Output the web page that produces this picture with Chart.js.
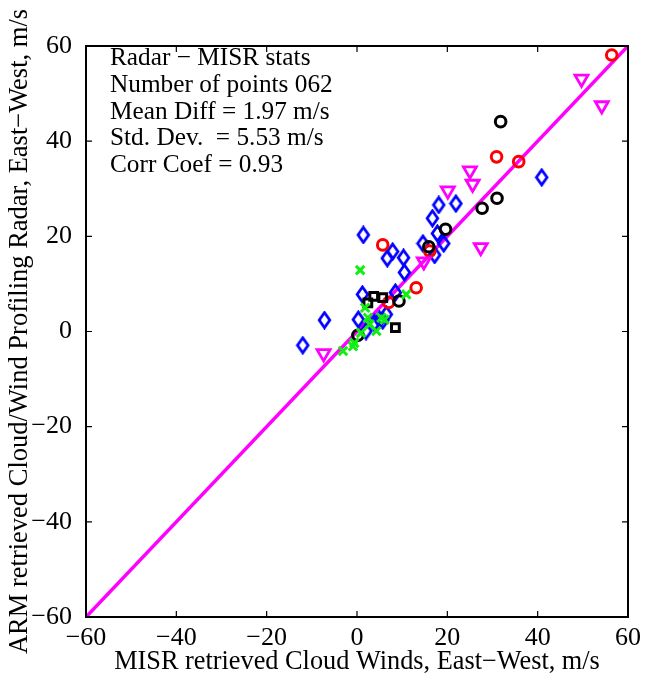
<!DOCTYPE html>
<html>
<head>
<meta charset="utf-8">
<script src="https://cdn.jsdelivr.net/npm/chart.js@4/dist/chart.umd.min.js"></script>
<style>
  body { margin: 0; background: #fff; }
  #wrap { width: 645px; height: 675px; }
</style>
</head>
<body>
<div id="wrap"><canvas id="c" width="645" height="675"></canvas></div>
<script>
// values (MISR x, Radar y), m/s
const diamondX = [40.9, 18.1, 21.9, 16.7, 17.8, 14.6, 19.2, 17.2, 10.3, 10.5, 1.4, 7.9, 6.7, 1.2, 8.5, -7.2, -12.0, 0.3, 2.0, 3.9, 5.0, 6.5, 5.7];
const diamondY = [32.4, 26.6, 26.9, 23.8, 20.6, 18.5, 18.5, 16.1, 15.5, 12.4, 20.3, 16.8, 15.4, 7.8, 8.2, 2.4, -2.9, 2.5, 0.1, 1.8, 2.5, 3.6, 2.3];
const redX = [56.4, 30.9, 35.8, 16.1, 5.7, 13.1, 7.0];
const redY = [58.1, 36.7, 35.7, 16.9, 18.2, 9.2, 6.1];
const blackX = [31.8, 31.0, 27.7, 19.6, 15.9, 9.3, 0.2];
const blackY = [44.1, 28.0, 25.9, 21.5, 17.8, 6.4, -0.8];
const squareX = [3.7, 5.7, 2.4, 8.5];
const squareY = [7.4, 7.1, 6.0, 0.8];
const triX = [49.7, 54.2, 25.0, 25.6, 20.1, 27.4, 14.8, -7.4];
const triY = [53.1, 47.5, 33.8, 31.0, 29.6, 17.7, 14.7, -4.6];
const greenX = [0.7, 10.9, 1.8, 2.4, 2.8, 4.3, 5.4, 0.9, -0.6, -0.9, -3.1, 6.1];
const greenY = [12.9, 7.8, 5.0, 2.9, 1.5, 0.1, 2.9, -0.3, -2.4, -3.1, -4.1, 2.5];
const lineX = [-60, 60];
const lineY = [-60, 60];
const tickVals = [-60, -40, -20, 0, 20, 40, 60];
const statsLines = [
  "Radar \u2212 MISR stats",
  "Number of points 062",
  "Mean Diff = 1.97 m/s",
  "Std. Dev.  = 5.53 m/s",
  "Corr Coef = 0.93"
];

const pts = (xs, ys) => xs.map((x, i) => ({ x: x, y: ys[i] }));

// narrow matlab-like diamond
function makeDiamond(color) {
  const cv = document.createElement("canvas");
  cv.width = 15; cv.height = 19;
  const g = cv.getContext("2d");
  g.strokeStyle = color;
  g.lineWidth = 2.8;
  g.lineJoin = "miter";
  g.beginPath();
  g.moveTo(7.5, 2); g.lineTo(12.8, 9.5); g.lineTo(7.5, 17); g.lineTo(2.2, 9.5);
  g.closePath();
  g.stroke();
  return cv;
}

const serif = "'Liberation Serif', 'DejaVu Serif', serif";

const frame = {
  id: "frame",
  afterDraw(chart) {
    const { ctx, chartArea: a, scales } = chart;
    ctx.save();
    ctx.strokeStyle = "#000";
    ctx.lineWidth = 2;
    ctx.strokeRect(a.left, a.top, a.right - a.left, a.bottom - a.top);
    ctx.lineWidth = 1.2;
    ctx.beginPath();
    tickVals.forEach(v => {
      const px = scales.x.getPixelForValue(v);
      const py = scales.y.getPixelForValue(v);
      ctx.moveTo(px, a.bottom); ctx.lineTo(px, a.bottom - 6);
      ctx.moveTo(px, a.top); ctx.lineTo(px, a.top + 6);
      ctx.moveTo(a.left, py); ctx.lineTo(a.left + 6, py);
      ctx.moveTo(a.right, py); ctx.lineTo(a.right - 6, py);
    });
    ctx.stroke();
    ctx.fillStyle = "#000";
    ctx.font = "25.3px " + serif;
    ctx.textBaseline = "alphabetic";
    ctx.textAlign = "left";
    statsLines.forEach((s, i) => ctx.fillText(s, 110, 65 + i * 26.8));
    ctx.restore();
  }
};

new Chart(document.getElementById("c"), {
  type: "scatter",
  data: {
    datasets: [
      { data: pts(lineX, lineY), showLine: true, borderColor: "#ff00ff", borderWidth: 3.5, pointRadius: 0, order: 10 },
      { data: pts(diamondX, diamondY), pointStyle: makeDiamond("#0000ff"), order: 6 },
      { data: pts(redX, redY), pointStyle: "circle", pointRadius: 5.3, borderColor: "#ff0000", backgroundColor: "transparent", borderWidth: 3, pointBorderWidth: 3, order: 5 },
      { data: pts(blackX, blackY), pointStyle: "circle", pointRadius: 5.3, borderColor: "#000", backgroundColor: "transparent", borderWidth: 3, pointBorderWidth: 3, order: 4 },
      { data: pts(squareX, squareY), pointStyle: "rect", pointRadius: 5.5, borderColor: "#000", backgroundColor: "transparent", borderWidth: 3, pointBorderWidth: 3, order: 3 },
      { data: pts(greenX, greenY), pointStyle: "crossRot", pointRadius: 6, borderColor: "#11ee11", borderWidth: 3, pointBorderWidth: 3, order: 2 },
      { data: pts(triX, triY), pointStyle: "triangle", pointRotation: 180, pointRadius: 7.5, borderColor: "#ff00ff", backgroundColor: "transparent", borderWidth: 2.8, pointBorderWidth: 2.8, order: 1 }
    ]
  },
  options: {
    responsive: false,
    animation: false,
    layout: { padding: { top: 46, right: 17, left: 0, bottom: 0 } },
    plugins: { legend: { display: false }, tooltip: { enabled: false } },
    scales: {
      x: {
        type: "linear", min: -60, max: 60,
        afterFit: s => { s.height = 58; },
        afterBuildTicks: s => { s.ticks = tickVals.map(v => ({ value: v })); },
        grid: { display: false },
        border: { display: false },
        ticks: { color: "#000", font: { family: serif, size: 26 }, padding: -2, maxRotation: 0,
                 callback: v => String(v).replace("-", "\u2212") },
        title: { display: true, text: "MISR retrieved Cloud Winds, East\u2212West, m/s", color: "#000",
                 font: { family: serif, size: 26.3 }, padding: { top: 0, bottom: -3 } }
      },
      y: {
        type: "linear", min: -60, max: 60,
        afterFit: s => { s.width = 86; },
        afterBuildTicks: s => { s.ticks = tickVals.map(v => ({ value: v })); },
        grid: { display: false },
        border: { display: false },
        ticks: { color: "#000", font: { family: serif, size: 26 }, padding: 6,
                 callback: v => String(v).replace("-", "\u2212") },
        title: { display: true, text: "ARM retrieved Cloud/Wind Profiling Radar, East\u2212West, m/s", color: "#000",
                 font: { family: serif, size: 26.5 }, padding: { top: 4, bottom: 0 } }
      }
    }
  },
  plugins: [frame]
});
</script>
</body>
</html>
